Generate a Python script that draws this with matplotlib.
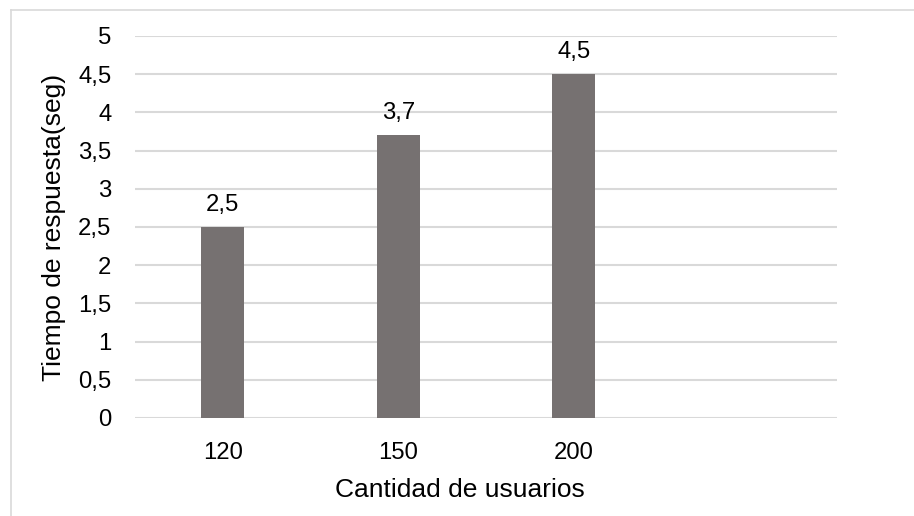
import matplotlib.pyplot as plt
from matplotlib.lines import Line2D

# data
usuarios = ["120", "150", "200", ""]
tiempos = [2.5, 3.7, 4.5, None]
y_ticks = [0, 0.5, 1, 1.5, 2, 2.5, 3, 3.5, 4, 4.5, 5]

plt.rcParams['font.family'] = ['Liberation Sans', 'DejaVu Sans']

W, H = 914, 516
fig = plt.figure(figsize=(W / 100, H / 100), dpi=100)
# plot area in pixels: x 135..837, y 36..418
ax = fig.add_axes([135 / W, 1 - 418 / H, (837 - 135) / W, (418 - 36) / H])

x = list(range(len(usuarios)))
heights = [v if v is not None else 0 for v in tiempos]
ax.bar(x, heights, width=0.245, color="#767171", zorder=3)

# data labels with decimal comma
for xi, v in zip(x, tiempos):
    if v is not None:
        ax.annotate(f"{v:g}".replace(".", ","), (xi, v), xytext=(0, 8),
                    textcoords="offset points", ha="center", va="bottom",
                    fontsize=17.2, color="#000000")

ax.set_xlim(-0.5, len(usuarios) - 0.5)
ax.set_ylim(0, 5)
ax.set_xticks(x)
ax.set_xticklabels(usuarios)
ax.set_yticks(y_ticks)
ax.set_yticklabels([f"{t:g}".replace(".", ",") for t in y_ticks])
ax.tick_params(length=0, labelsize=17.2, colors="#000000")
ax.tick_params(axis="y", pad=17)
ax.tick_params(axis="x", pad=17)

ax.yaxis.grid(True, color="#D9D9D9", linewidth=1.5, zorder=0)
for s in ax.spines.values():
    s.set_visible(False)

ax.set_xlabel("Cantidad de usuarios", fontsize=19, va="center")
ax.xaxis.set_label_coords((460 - 135) / 702, (418 - 490) / 382)
ax.set_ylabel("Tiempo de respuesta(seg)", fontsize=19, va="center")
ax.yaxis.set_label_coords((54 - 135) / 702, (418 - 227) / 382)

# chart area border (left and top visible)
fig.add_artist(Line2D([11 / W, 11 / W], [0, 1 - 10 / H], color="#D9D9D9", linewidth=1.2))
fig.add_artist(Line2D([11 / W, 1], [1 - 10 / H, 1 - 10 / H], color="#D9D9D9", linewidth=1.2))

fig.savefig("out.png", dpi=100)
